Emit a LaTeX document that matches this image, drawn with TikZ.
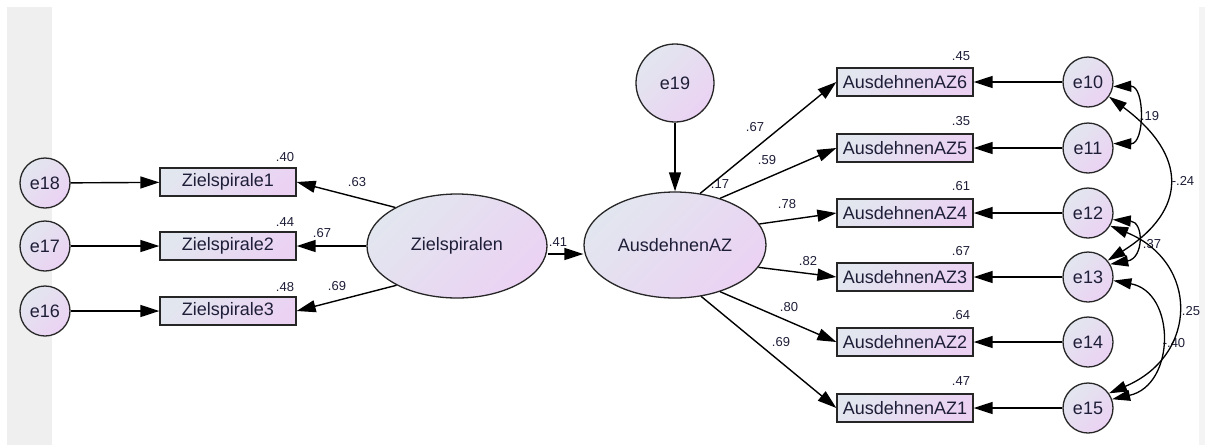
\documentclass[tikz,border=0pt]{standalone}
\usepackage{fontspec}
\setmainfont{Liberation Sans}
\usetikzlibrary{arrows.meta,shapes.geometric}
\definecolor{shadeA}{HTML}{E2E6EF}
\definecolor{shadeB}{HTML}{EBD2F3}
\definecolor{edge}{HTML}{262626}
\definecolor{ink}{HTML}{1E1E38}
\definecolor{panel}{HTML}{EFEFEF}
\definecolor{panelR}{HTML}{F4F4F4}
\begin{document}
\begin{tikzpicture}[x=1pt,y=-1pt,
  filled/.style={draw=edge, line width=1.3pt, top color=shadeA, bottom color=shadeB,
    shading angle=45, inner sep=0pt, text=ink, font=\fontsize{18}{20}\selectfont},
  errvar/.style={filled, circle, minimum size=50pt},
  bigerr/.style={filled, circle, minimum size=78pt},
  latent/.style={filled, ellipse, minimum width=180pt, minimum height=104pt},
  observed/.style={filled, rectangle, minimum width=136pt, minimum height=28pt},
  coef/.style={font=\fontsize{13}{14}\selectfont, inner sep=0pt, text=ink},
  regpath/.style={draw=black, line width=1.4pt, -{Triangle[length=19pt,width=12pt]}},
  covar/.style={draw=black, line width=1.3pt,
    {Triangle[length=18pt,width=11pt]}-{Triangle[length=18pt,width=11pt]}}]
\useasboundingbox (0,0) rectangle (1205,445);
% window background
\fill[white] (0,0) rectangle (1205,445);
\fill[panel] (7,7) rectangle (52,445);
\fill[panelR] (1199,7) rectangle (1205,445);

% coefficients
\node[coef] (r1) at (285,157) {.40};
\node[coef] (r2) at (285,222) {.44};
\node[coef] (r3) at (285,287) {.48};
\node[coef] (l1) at (357,182) {.63};
\node[coef] (l2) at (322,233) {.67};
\node[coef] (l3) at (337,286) {.69};
\node[coef] (b41) at (558,242) {.41};
\node[coef] (r19) at (720,184) {.17};
\node[coef] (m6) at (755,127) {.67};
\node[coef] (m5) at (767,160) {.59};
\node[coef] (m4) at (787,204) {.78};
\node[coef] (m3) at (808,261) {.82};
\node[coef] (m2) at (789,307) {.80};
\node[coef] (m1) at (781,342) {.69};
\node[coef] (q6) at (961,56) {.45};
\node[coef] (q5) at (961,121) {.35};
\node[coef] (q4) at (961,186) {.61};
\node[coef] (q3) at (961,251) {.67};
\node[coef] (q2) at (961,315) {.64};
\node[coef] (q1) at (961,381) {.47};
\node[coef] (c19) at (1150,116) {.19};
\node[coef] (c24) at (1183,181) {-.24};
\node[coef] (c37) at (1152,244) {.37};
\node[coef] (c25) at (1191,311) {.25};
\node[coef] (c40) at (1174,343) {-.40};

% left block
\node[errvar] (e18) at (45,183) {e18};
\node[errvar] (e17) at (45,246) {e17};
\node[errvar] (e16) at (45,311) {e16};
\node[observed] (z1) at (228,182) {Zielspirale1};
\node[observed] (z2) at (228,246) {Zielspirale2};
\node[observed] (z3) at (228,311) {Zielspirale3};
\node[latent] (zs) at (457,246) {Zielspiralen};

% right block
\node[latent, minimum width=182pt, minimum height=106pt] (az) at (675,245) {AusdehnenAZ};
\node[bigerr] (e19) at (675,83) {e19};
\node[observed] (a6) at (905,82) {AusdehnenAZ6};
\node[observed] (a5) at (905,148) {AusdehnenAZ5};
\node[observed] (a4) at (905,213) {AusdehnenAZ4};
\node[observed] (a3) at (905,277) {AusdehnenAZ3};
\node[observed] (a2) at (905,342) {AusdehnenAZ2};
\node[observed] (a1) at (905,408) {AusdehnenAZ1};
\node[errvar] (e10) at (1088,82) {e10};
\node[errvar] (e11) at (1088,148) {e11};
\node[errvar] (e12) at (1088,213) {e12};
\node[errvar] (e13) at (1088,277) {e13};
\node[errvar] (e14) at (1088,342) {e14};
\node[errvar] (e15) at (1088,408) {e15};

% regression paths
\draw[regpath] (e18) -- (z1);
\draw[regpath] (e17) -- (z2);
\draw[regpath] (e16) -- (z3);
\draw[regpath] (zs.148) -- (z1.east);
\draw[regpath] (zs.west) -- (z2.east);
\draw[regpath] (zs.213) -- (z3.east);
\coordinate (mid41) at (566,254);
\draw[regpath] (zs.east |- mid41) -- (az.west |- mid41);
\draw[regpath] (e19) -- (az);
\draw[regpath] (az.64) -- (a6.west);
\draw[regpath] (az.46) -- (a5.west);
\draw[regpath] (az.14) -- (a4.west);
\draw[regpath] (az.-15) -- (a3.west);
\draw[regpath] (az.-46) -- (a2.west);
\draw[regpath] (az.-63) -- (a1.west);
\draw[regpath] (e10) -- (a6);
\draw[regpath] (e11) -- (a5);
\draw[regpath] (e12) -- (a4);
\draw[regpath] (e13) -- (a3);
\draw[regpath] (e14) -- (a2);
\draw[regpath] (e15) -- (a1);

% covariances among the error terms
\draw[covar] (e10.-10) .. controls (1145,86) and (1145,144) .. (e11.10);
\draw[covar] (e10.-35) .. controls (1188,155) and (1188,210) .. (e13.40);
\draw[covar] (e12.-15) .. controls (1144,222) and (1144,258) .. (e13.30);
\draw[covar] (e12.-30) .. controls (1199,262) and (1199,355) .. (e15.35);
\draw[covar] (e13.-8) .. controls (1176,292) and (1176,385) .. (e15.20);
\end{tikzpicture}
\end{document}
